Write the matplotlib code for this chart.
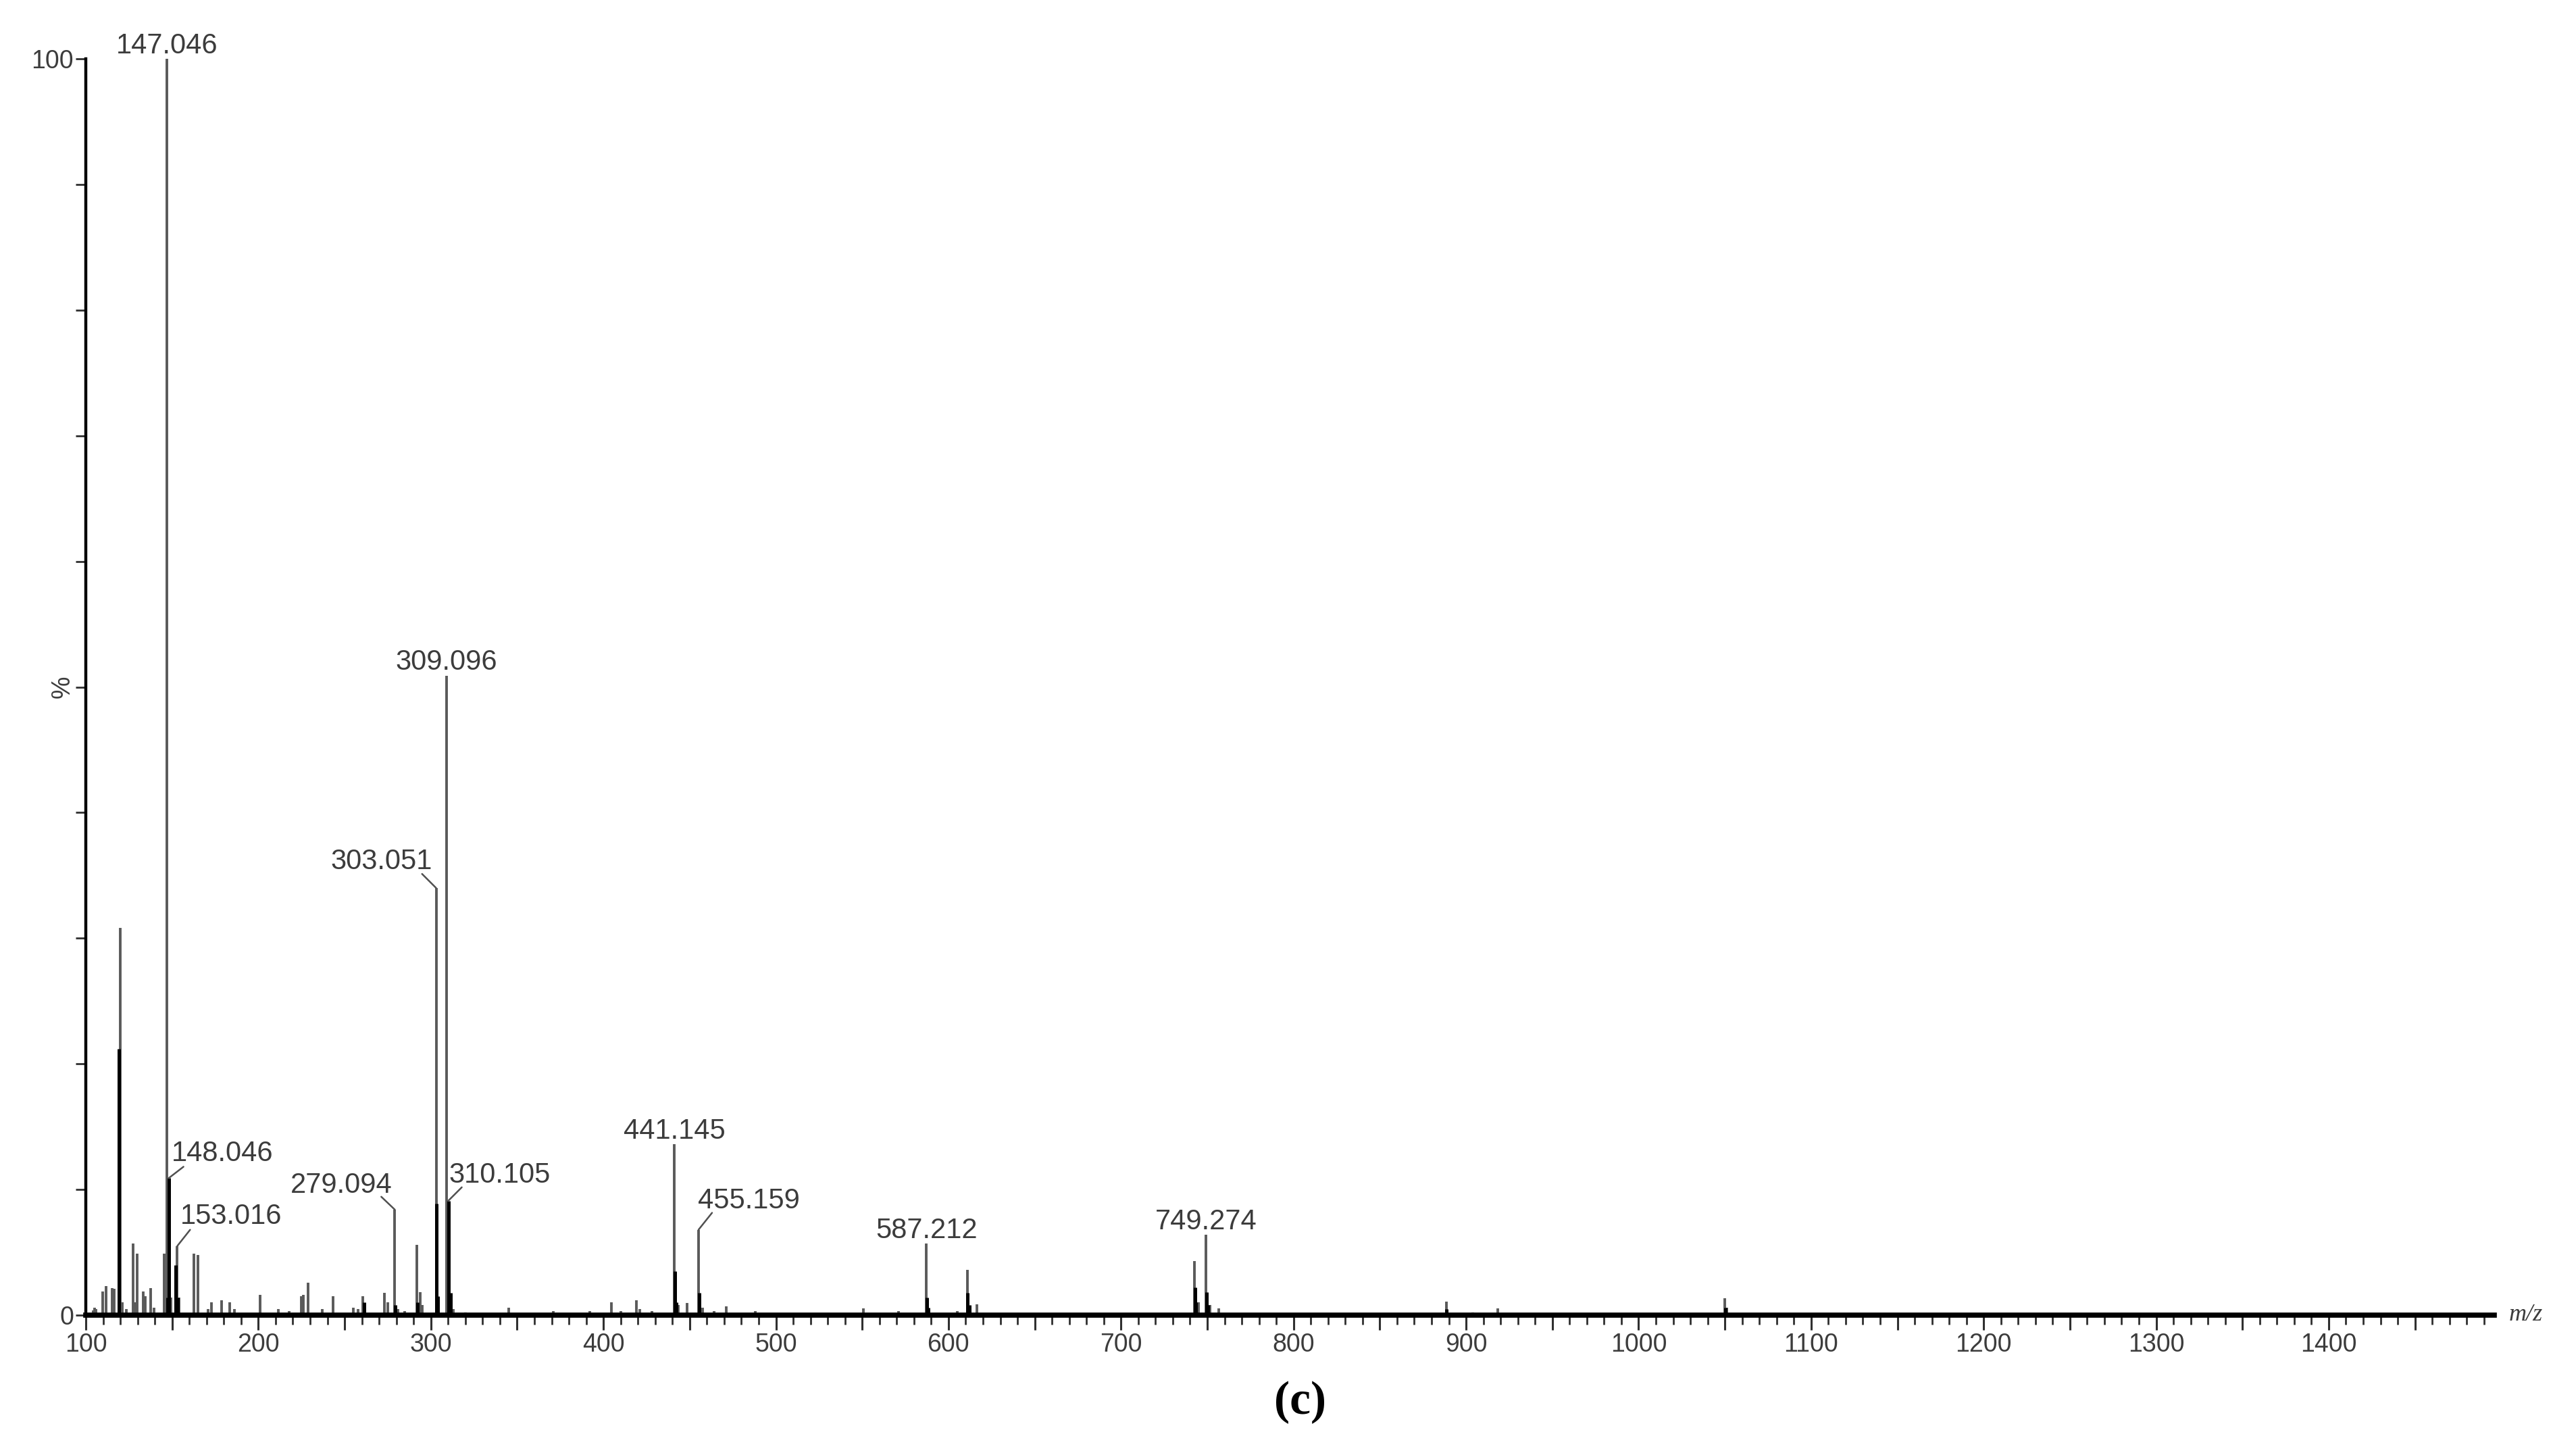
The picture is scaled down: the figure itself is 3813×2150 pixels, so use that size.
import matplotlib.pyplot as plt
from matplotlib.ticker import MultipleLocator, FuncFormatter

# spectrum sticks (m/z, relative intensity %)
peak_mz = [104.5, 105.1, 106.0, 109.9, 111.9, 115.4, 116.6, 120.1, 121.0, 123.5,
           127.3, 128.5, 129.6, 133.2, 134.5, 137.5, 139.5, 145.6, 147.046, 149.3,
           153.016, 154.2, 162.5, 165.1, 171.0, 173.0, 178.9, 183.4, 186.0, 201.1,
           211.5, 218.0, 225.0, 225.9, 228.9, 237.0, 243.2, 255.1, 258.0, 260.7,
           272.9, 275.1, 279.094, 281.0, 285.0, 291.8, 293.8, 295.0, 303.051, 309.096,
           313.0, 320.0, 345.0, 371.0, 392.0, 404.7, 410.0, 419.1, 421.0, 428.0,
           441.145, 443.5, 448.6, 455.159, 457.5, 464.0, 471.3, 488.0, 550.8, 571.0,
           587.212, 605.0, 610.9, 616.4, 742.6, 745.0, 749.274, 751.5, 756.6, 888.5,
           903.9, 918.4, 1049.9, 1051.0]
peak_int = [0.4, 0.6, 0.5, 1.9, 2.3, 2.15, 2.1, 30.8, 1.0, 0.5,
            5.7, 1.0, 4.9, 1.9, 1.5, 2.15, 0.6, 4.9, 100.0, 1.4,
            5.5, 1.4, 4.9, 4.8, 0.5, 1.0, 1.2, 1.0, 0.5, 1.6,
            0.5, 0.3, 1.5, 1.6, 2.6, 0.5, 1.5, 0.6, 0.5, 1.5,
            1.76, 1.0, 8.4, 0.5, 0.3, 5.6, 1.85, 0.8, 34.0, 50.9,
            0.5, 0.2, 0.6, 0.3, 0.3, 1.0, 0.3, 1.2, 0.5, 0.3,
            13.6, 0.8, 0.95, 6.8, 0.6, 0.3, 0.7, 0.3, 0.54, 0.3,
            5.7, 0.3, 3.6, 0.86, 4.3, 1.0, 6.4, 0.8, 0.54, 1.08,
            0.23, 0.54, 1.36, 0.6]

# dark (profile) parts at the foot of the peaks
base_mz = [119.2, 147.3, 148.046, 152.2, 153.3, 261.5, 279.3, 292.1, 303.3, 304.2,
           310.105, 311.3, 441.3, 442.2, 455.4, 587.4, 588.2, 611.1, 612.0, 742.8,
           743.5, 749.5, 750.3, 888.8, 1050.2]
base_int = [21.2, 1.4, 10.9, 4.0, 1.4, 1.0, 0.8, 1.0, 8.9, 1.5,
            9.1, 1.8, 3.5, 1.0, 1.75, 1.4, 0.6, 1.76, 0.8, 2.2,
            1.0, 1.85, 0.8, 0.5, 0.6]

# labelled peaks
label_mz = [147.046, 148.046, 153.016, 279.094, 303.051, 309.096, 310.105,
            441.145, 455.159, 587.212, 749.274]
label_int = [100.0, 10.9, 5.5, 8.4, 34.0, 50.9, 9.1, 13.6, 6.8, 5.7, 6.4]
label_txt = ['147.046', '148.046', '153.016', '279.094', '303.051', '309.096',
             '310.105', '441.145', '455.159', '587.212', '749.274']

# label placement (offset points): leader end, text anchor, alignment
layout = {
    '148.046': ((15.8, 12.2), (2.9, 18.0), 'left'),
    '153.016': ((13.7, 17.3), (2.9, 23.8), 'left'),
    '279.094': ((-14.4, 13.7), (-2.9, 18.0), 'right'),
    '303.051': ((-15.0, 15.0), (-4.3, 20.2), 'right'),
    '310.105': ((14.4, 14.4), (0.7, 19.4), 'left'),
    '455.159': ((14.4, 18.0), (-0.7, 23.0), 'left'),
}

txt_col = '#3c3c3c'
fnt = 'Liberation Sans'

fig = plt.figure(figsize=(38.13, 21.5), dpi=100)
ax = fig.add_axes([0.0333, 0.0949, 0.9350, 0.8646])

ax.vlines(peak_mz, 0, peak_int, color='#5a5a5a', lw=2.8)
ax.vlines(base_mz, 0, base_int, color='black', lw=3.6)

ax.set_xlim(100, 1496)
ax.set_ylim(0, 100)

for s in ['top', 'right']:
    ax.spines[s].set_visible(False)
ax.spines['bottom'].set_linewidth(5.5)
ax.spines['left'].set_linewidth(3.2)

ax.xaxis.set_major_locator(MultipleLocator(50))
ax.xaxis.set_minor_locator(MultipleLocator(10))
ax.xaxis.set_major_formatter(FuncFormatter(lambda v, p: '%d' % v if v % 100 == 0 and v < 1450 else ''))
ax.yaxis.set_major_locator(MultipleLocator(10))
ax.yaxis.set_major_formatter(FuncFormatter(lambda v, p: '%d' % v if v in (0, 100) else ''))

ax.tick_params(axis='x', which='major', length=16, width=2.2, pad=3,
               labelsize=27, labelcolor=txt_col, color='#303030')
ax.tick_params(axis='x', which='minor', length=10, width=2.0, color='#303030')
ax.tick_params(axis='y', which='major', length=11, width=2.0, pad=2,
               labelsize=27, labelcolor=txt_col, color='#303030')
for lab in ax.get_xticklabels() + ax.get_yticklabels():
    lab.set_family(fnt)

# peak labels
for mz, h, t in zip(label_mz, label_int, label_txt):
    if t in layout:
        lead, off, ha = layout[t]
        ax.annotate('', xy=(mz, h), xytext=lead, textcoords='offset points',
                    arrowprops=dict(arrowstyle='-', color='#505050', lw=1.8,
                                    shrinkA=0, shrinkB=0), annotation_clip=False)
        ax.annotate(t, xy=(mz, h), xytext=off, textcoords='offset points',
                    ha=ha, va='baseline', fontsize=30, color=txt_col, family=fnt,
                    annotation_clip=False)
    else:
        ax.annotate(t, xy=(mz, h), xytext=(0, 6), textcoords='offset points',
                    ha='center', va='baseline', fontsize=30, color=txt_col, family=fnt,
                    annotation_clip=False)

ax.text(-0.0095, 0.5, '%', transform=ax.transAxes, rotation=90, ha='center',
        va='center', fontsize=27, color=txt_col, family=fnt)
ax.text(1.013, 0.0, 'm/z', transform=ax.transAxes, ha='center', va='center',
        fontsize=26, style='italic', family='Liberation Serif', color=txt_col)

fig.text(0.5046, 0.035, '(c)', ha='center', va='center', fontsize=50,
         weight='bold', family='Liberation Serif', color='black')

fig.savefig('out.png', dpi=100)
